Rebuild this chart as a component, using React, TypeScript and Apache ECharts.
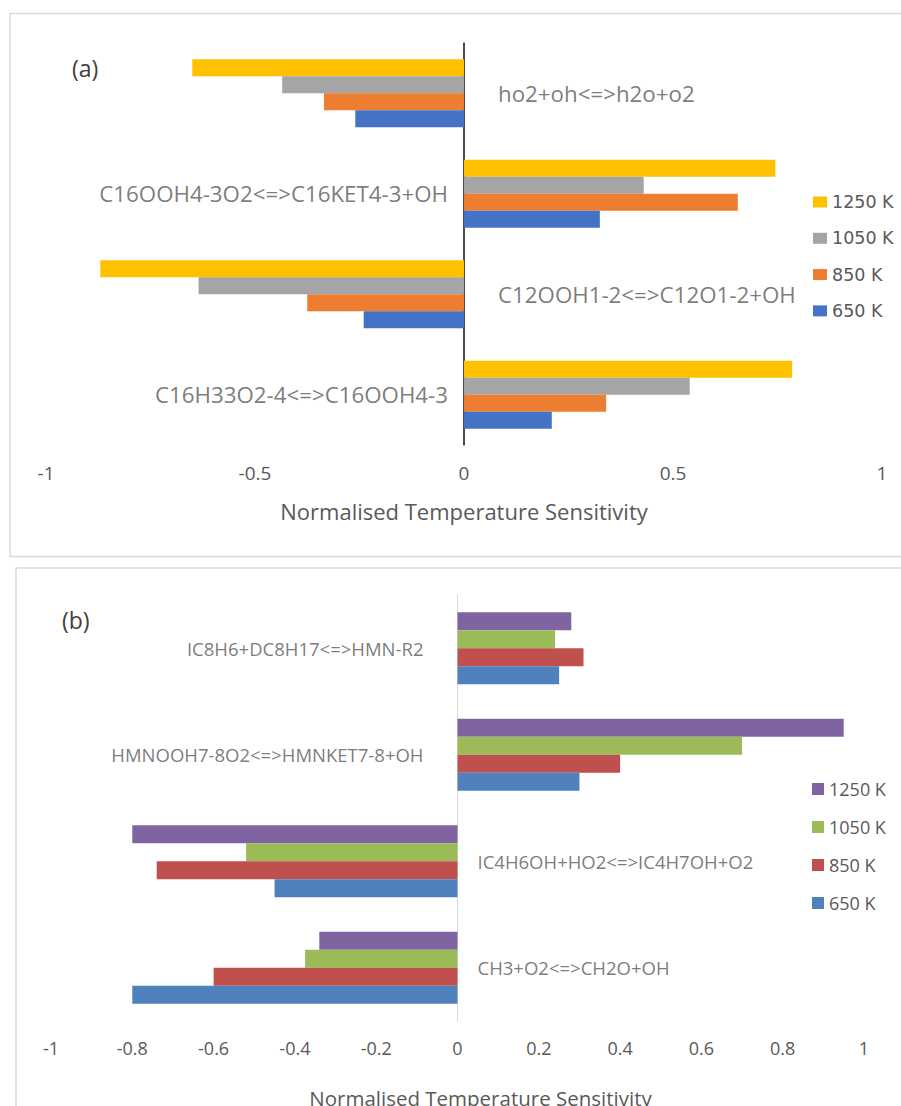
import React, { useEffect, useRef } from "react";
import * as echarts from "echarts";

// ---------- Panel (a) data ----------
const catsA = [
  "ho2+oh<=>h2o+o2",
  "C16OOH4-3O2<=>C16KET4-3+OH",
  "C12OOH1-2<=>C12O1-2+OH",
  "C16H33O2-4<=>C16OOH4-3",
];
const temps = ["1250 K", "1050 K", "850 K", "650 K"];
const a1250 = [-0.65, 0.745, -0.87, 0.785];
const a1050 = [-0.435, 0.43, -0.635, 0.54];
const a850 = [-0.335, 0.655, -0.375, 0.34];
const a650 = [-0.26, 0.325, -0.24, 0.21];
const colorsA = ["#FFC000", "#A5A5A5", "#ED7D31", "#4472C4"];

// ---------- Panel (b) data ----------
const catsB = [
  "IC8H6+DC8H17<=>HMN-R2",
  "HMNOOH7-8O2<=>HMNKET7-8+OH",
  "IC4H6OH+HO2<=>IC4H7OH+O2",
  "CH3+O2<=>CH2O+OH",
];
const b1250 = [0.28, 0.95, -0.8, -0.34];
const b1050 = [0.24, 0.7, -0.52, -0.375];
const b850 = [0.31, 0.4, -0.74, -0.6];
const b650 = [0.25, 0.3, -0.45, -0.8];
const colorsB = ["#8064A2", "#9BBB59", "#C0504D", "#4F81BD"];

const ticksA = { min: -1, max: 1, interval: 0.5 };
const ticksB = { min: -1, max: 1, interval: 0.2 };
const axisTitle = "Normalised Temperature Sensitivity";

const TXT = "#595959";
const FONT = "Open Sans";

export default function App() {
  const ref = useRef<HTMLDivElement>(null);
  useEffect(() => {
    if (!ref.current) return;
    const chart = echarts.init(ref.current, undefined, { renderer: "svg" });
    const seriesA = [a1250, a1050, a850, a650];
    const seriesB = [b1250, b1050, b850, b650];
    const posA = catsA.map((_, i) => seriesA.reduce((s, arr) => s + arr[i], 0) > 0);
    const posB = catsB.map((_, i) => seriesB.reduce((s, arr) => s + arr[i], 0) > 0);

    const labelSeries = (
      grid: number,
      cats: string[],
      pos: boolean[],
      dLeft: number,
      dRight: number,
      fontSize: number
    ) => ({
      type: "scatter",
      xAxisIndex: grid,
      yAxisIndex: grid,
      symbolSize: 0,
      silent: true,
      z: 5,
      data: cats.map((_, i) => ({
        value: [0, i],
        label: {
          position: pos[i] ? "left" : "right",
          distance: pos[i] ? dLeft : dRight,
        },
      })),
      label: {
        show: true,
        fontSize,
        color: TXT,
        fontFamily: FONT,
        formatter: (p: any) => cats[p.value[1]],
      },
    });

    const catAxis = (grid: number, data: string[], line: any) => ({
      type: "category",
      gridIndex: grid,
      data,
      inverse: true,
      axisLine: { onZero: true, onZeroAxisIndex: grid, ...line },
      axisTick: { show: false },
      splitLine: { show: false },
      axisLabel: { show: false },
    });

    const option: any = {
      animation: false,
      backgroundColor: "#fff",
      grid: [
        { left: 46, width: 836, top: 43, height: 402, outerBoundsMode: "none" },
        { left: 51, width: 813, top: 595, height: 426, outerBoundsMode: "none" },
      ],
      xAxis: [
        {
          type: "value",
          gridIndex: 0,
          ...ticksA,
          axisLine: { show: false },
          axisTick: { show: false },
          splitLine: { show: false },
          axisLabel: { margin: 18, fontSize: 19, color: TXT, fontFamily: FONT },
          name: axisTitle,
          nameLocation: "middle",
          nameGap: 55,
          nameTextStyle: { fontSize: 22, color: TXT, fontFamily: FONT },
        },
        {
          type: "value",
          gridIndex: 1,
          ...ticksB,
          axisLine: { show: false },
          axisTick: { show: false },
          splitLine: { show: false },
          axisLabel: { margin: 18, fontSize: 18, color: TXT, fontFamily: FONT },
          name: axisTitle,
          nameLocation: "middle",
          nameGap: 66,
          nameTextStyle: {
            fontSize: 20.5,
            color: TXT,
            fontFamily: FONT,
            padding: [0, 0, 0, 46],
          },
        },
      ],
      yAxis: [
        catAxis(0, catsA, { lineStyle: { color: "#111", width: 1.5 } }),
        catAxis(1, catsB, { lineStyle: { color: "#d9d9d9", width: 1 } }),
      ],
      legend: [
        {
          orient: "vertical",
          left: 808,
          top: 188,
          itemWidth: 14,
          itemHeight: 11,
          itemGap: 18.3,
          icon: "rect",
          data: temps.map((t) => "a:" + t),
          formatter: (n: string) => n.slice(2),
          textStyle: { fontSize: 17.5, color: TXT, fontFamily: "DejaVu Sans" },
        },
        {
          orient: "vertical",
          left: 807,
          top: 775,
          itemWidth: 12,
          itemHeight: 12,
          itemGap: 20,
          icon: "rect",
          data: temps.map((t) => "b:" + t),
          formatter: (n: string) => n.slice(2),
          textStyle: { fontSize: 18, color: TXT, fontFamily: FONT },
        },
      ],
      series: [
        ...seriesA.map((d, k) => ({
          type: "bar",
          name: "a:" + temps[k],
          xAxisIndex: 0,
          yAxisIndex: 0,
          data: d,
          barWidth: 17,
          barGap: "0%",
          itemStyle: { color: colorsA[k] },
        })),
        ...seriesB.map((d, k) => ({
          type: "bar",
          name: "b:" + temps[k],
          xAxisIndex: 1,
          yAxisIndex: 1,
          data: d,
          barWidth: 18,
          barGap: "0%",
          itemStyle: { color: colorsB[k] },
        })),
        labelSeries(0, catsA, posA, 16, 34, 22.3),
        labelSeries(1, catsB, posB, 34, 20, 18.5),
      ],
      graphic: [
        {
          type: "rect",
          shape: { x: 10, y: 13.5, width: 900, height: 543 },
          style: { fill: "none", stroke: "#d9d9d9", lineWidth: 1.5 },
          silent: true,
        },
        {
          type: "rect",
          shape: { x: 16, y: 568, width: 900, height: 600 },
          style: { fill: "none", stroke: "#d9d9d9", lineWidth: 1.5 },
          silent: true,
        },
        {
          type: "text",
          left: 72,
          top: 56,
          style: { text: "(a)", fontSize: 23, fill: "#404040", fontFamily: FONT },
        },
        {
          type: "text",
          left: 62,
          top: 608,
          style: { text: "(b)", fontSize: 23, fill: "#404040", fontFamily: FONT },
        },
      ],
    };
    chart.setOption(option);
    return () => chart.dispose();
  }, []);
  return (
    <div
      ref={ref}
      style={{ position: "absolute", left: 0, top: 0, width: 901, height: 1106 }}
    />
  );
}
